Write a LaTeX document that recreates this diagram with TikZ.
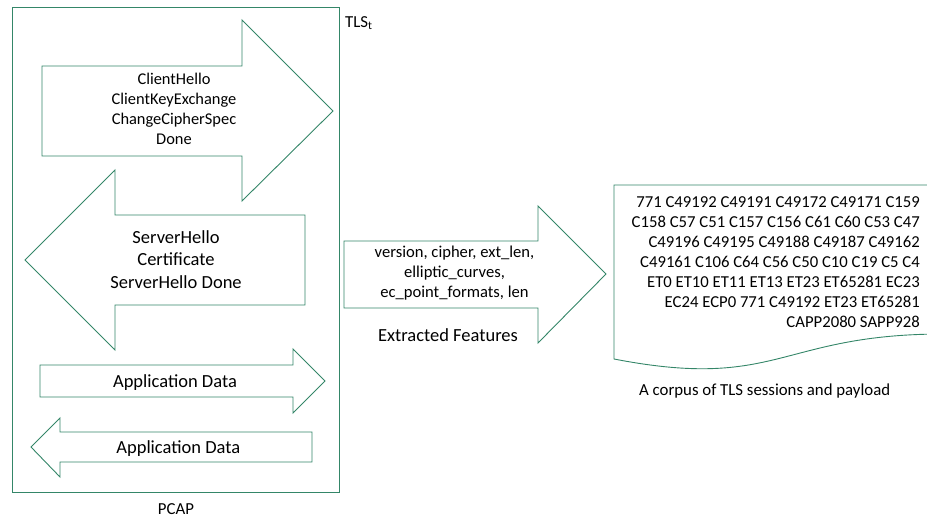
\documentclass[tikz,border=0pt]{standalone}
\usepackage{fontspec}
\setmainfont{Carlito}
\definecolor{edge}{RGB}{52,134,104}
\begin{document}
\begin{tikzpicture}[x=1bp,y=-1bp,
  outline/.style={draw=edge,line width=0.9bp,line join=miter},
  lbl/.style={inner sep=0pt,align=center,font=\fontsize{16.6bp}{20bp}\selectfont},
  biglbl/.style={inner sep=0pt,align=center,font=\fontsize{18.5bp}{22.5bp}\selectfont}]
\useasboundingbox (0,0) rectangle (927,517);

% capture frame
\draw[outline] (12,7) rectangle (339,492);
\node[lbl,font=\fontsize{16.8bp}{20bp}\selectfont] (pcap) at (176,509) {PCAP};
\node[lbl,anchor=west,font=\fontsize{16.8bp}{20bp}\selectfont] (tls) at (345,23) {TLS\textsubscript{t}};

% client to server handshake
\draw[outline] (42,66) -- (242,66) -- (242,20) -- (333,111) -- (242,201) -- (242,156) -- (42,156) -- cycle;
\node[lbl,font=\fontsize{16.4bp}{20bp}\selectfont] (client) at (174,109)
  {ClientHello\\ClientKeyExchange\\ChangeCipherSpec\\Done};

% server to client handshake
\draw[outline] (305,215) -- (115,215) -- (115,170) -- (25,260) -- (115,350) -- (115,305) -- (305,305) -- cycle;
\node[biglbl] (server) at (176,259.5) {ServerHello\\Certificate\\ServerHello Done};

% application data, both directions
\draw[outline] (40,365) -- (293,365) -- (293,349) -- (325,381) -- (293,413) -- (293,397) -- (40,397) -- cycle;
\node[biglbl] (appout) at (175,382.4) {Application Data};
\draw[outline] (312,432) -- (60,432) -- (60,418) -- (31,447) -- (60,477) -- (60,462) -- (312,462) -- cycle;
\node[biglbl] (appin) at (178.3,448.7) {Application Data};

% feature extraction
\draw[outline] (344,241) -- (538,241) -- (538,206) -- (606,274) -- (538,343) -- (538,308) -- (344,308) -- cycle;
\node[lbl] (feat) at (454.5,272.8) {version, cipher, ext\_len,\\elliptic\_curves,\\ec\_point\_formats, len};
\node[biglbl] (extracted) at (448,335) {Extracted Features};

% corpus document, its wavy lower edge running on past the right border
\draw[outline] (944,334) -- (944,185) -- (614,185) -- (614,359)
  .. controls (779,391) and (779,334) .. (944,334);
\node[lbl,align=right,anchor=north east,font=\fontsize{16.7bp}{20.1bp}\selectfont] (corpus) at (920,196.3)
  {771 C49192 C49191 C49172 C49171 C159\\C158 C57 C51 C157 C156 C61 C60 C53 C47\\C49196 C49195 C49188 C49187 C49162\\C49161 C106 C64 C56 C50 C10 C19 C5 C4\\ET0 ET10 ET11 ET13 ET23 ET65281 EC23\\EC24 ECP0 771 C49192 ET23 ET65281\\CAPP2080 SAPP928};
\node[lbl,font=\fontsize{16.8bp}{20bp}\selectfont] (caption) at (764.7,391.4) {A corpus of TLS sessions and payload};
\end{tikzpicture}
\end{document}
